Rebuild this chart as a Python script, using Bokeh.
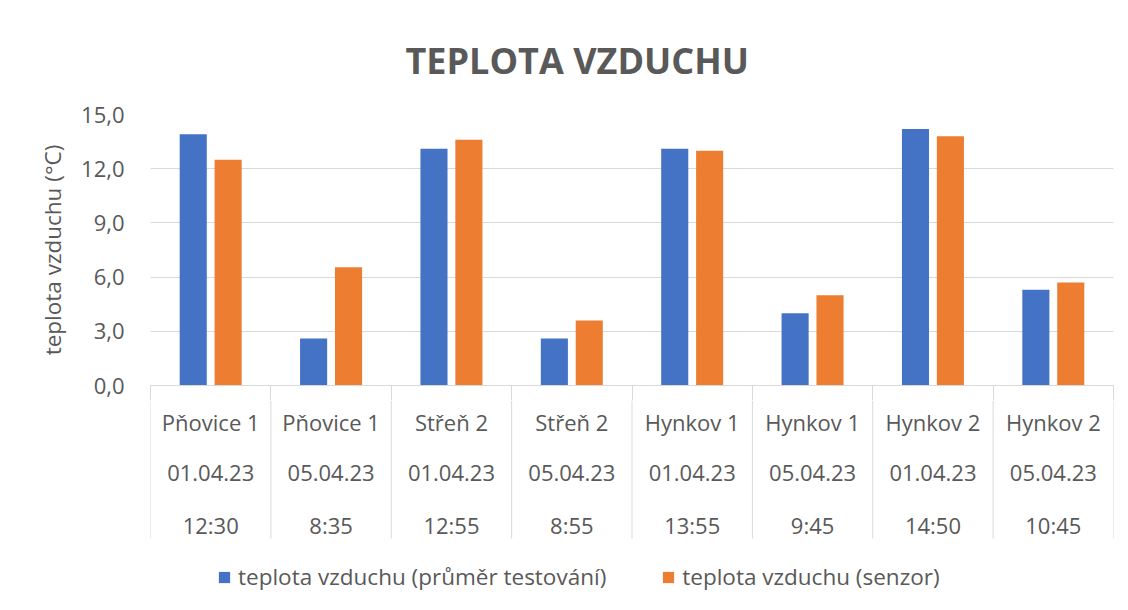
from bokeh.plotting import figure
from bokeh.layouts import column
from bokeh.models import (ColumnDataSource, FixedTicker, Range1d, Legend, LegendItem)
from bokeh.core.properties import value
from bokeh.embed import file_html
from bokeh.resources import INLINE

# ---- data ----
locations = ["Pňovice 1", "Pňovice 1", "Střeň 2", "Střeň 2", "Hynkov 1", "Hynkov 1", "Hynkov 2", "Hynkov 2"]
dates = ["01.04.23", "05.04.23", "01.04.23", "05.04.23", "01.04.23", "05.04.23", "01.04.23", "05.04.23"]
times = ["12:30", "8:35", "12:55", "8:55", "13:55", "9:45", "14:50", "10:45"]
temp_test = [13.9, 2.6, 13.1, 2.6, 13.1, 4.0, 14.2, 5.3]
temp_sensor = [12.5, 6.55, 13.6, 3.6, 13.0, 5.0, 13.8, 5.7]
series_names = ["teplota vzduchu (průměr testování)", "teplota vzduchu (senzor)"]
y_ticks = [0, 3, 6, 9, 12, 15]
y_tick_labels = ["0,0", "3,0", "6,0", "9,0", "12,0", "15,0"]

BLUE = "#4472C4"
ORANGE = "#ED7D31"
TXT = "#595959"
GRID = "#D9D9D9"
FONT = "Open Sans"

n = len(locations)
offset = 0.145
bw = 0.225
centers = [i + 0.5 for i in range(n)]
bounds = list(range(n + 1))
x_range = Range1d(0, n)

src = ColumnDataSource(dict(
    xa=[c - offset for c in centers],
    xb=[c + offset for c in centers],
    a=temp_test,
    b=temp_sensor,
))

# ---------- main plot: title, bars, value axis ----------
p = figure(width=1128, height=400, output_backend="svg", toolbar_location=None,
           x_range=x_range, y_range=Range1d(0, 15),
           min_border_left=150, min_border_right=15, min_border_top=114, min_border_bottom=15)
p.outline_line_color = None
p.background_fill_color = "white"
p.border_fill_color = "white"

p.vbar(x="xa", top="a", width=bw, source=src, fill_color=BLUE, line_color=None)
p.vbar(x="xb", top="b", width=bw, source=src, fill_color=ORANGE, line_color=None)

p.title.text = "TEPLOTA VZDUCHU"
p.title.text_font = FONT
p.title.text_font_size = "36px"
p.title.text_font_style = "bold"
p.title.text_color = TXT
p.title.align = "left"
p.title.offset = 255
p.title.standoff = 59

# category axis line with the top part of the separators
xa = p.xaxis[0]
xa.ticker = FixedTicker(ticks=[], minor_ticks=bounds)
xa.axis_line_color = GRID
xa.major_tick_line_color = None
xa.major_tick_out = 0
xa.major_tick_in = 0
xa.minor_tick_line_color = GRID
xa.minor_tick_out = 15
xa.minor_tick_in = 0
xa.major_label_standoff = 0
xa.major_label_text_font_size = "0px"

ya = p.yaxis[0]
ya.ticker = FixedTicker(ticks=y_ticks)
ya.major_label_overrides = {t: l for t, l in zip(y_ticks, y_tick_labels)}
ya.axis_line_color = None
ya.major_tick_line_color = None
ya.minor_tick_line_color = None
ya.major_label_standoff = 20
ya.major_label_text_font = FONT
ya.major_label_text_font_size = "22px"
ya.major_label_text_color = TXT
ya.axis_label = "teplota vzduchu (°C)"
ya.axis_label_text_font = FONT
ya.axis_label_text_font_size = "22.5px"
ya.axis_label_text_font_style = "normal"
ya.axis_label_text_color = TXT
ya.axis_label_standoff = 10

p.ygrid.ticker = FixedTicker(ticks=y_ticks)
p.ygrid.grid_line_color = GRID
p.xgrid.grid_line_color = None

# ---------- category labels + legend (y measured downward in px) ----------
q = figure(width=1128, height=210, output_backend="svg", toolbar_location=None,
           x_range=x_range, y_range=Range1d(210, 0),
           min_border_left=150, min_border_right=15, min_border_top=0, min_border_bottom=0)
q.outline_line_color = None
q.background_fill_color = "white"
q.border_fill_color = "white"
q.xaxis.visible = False
q.yaxis.visible = False
q.xgrid.grid_line_color = None
q.ygrid.grid_line_color = None

# separators between categories
q.segment(x0=bounds, x1=bounds, y0=[0] * len(bounds), y1=[138] * len(bounds),
          line_color=GRID, line_width=1)

row_y = [21, 72.5, 124]
for rows, yy in zip([locations, dates, times], row_y):
    q.text(x=centers, y=[yy] * n, text=rows, text_align="center", text_baseline="middle",
           text_font=value(FONT), text_font_size=value("22px"), text_color=TXT)

# legend: hidden renderers carrying the series colours
l1 = q.vbar(x="xa", top="a", width=bw, source=src, fill_color=BLUE, line_color=None, visible=False)
l2 = q.vbar(x="xb", top="b", width=bw, source=src, fill_color=ORANGE, line_color=None, visible=False)
legend = Legend(items=[LegendItem(label=series_names[0], renderers=[l1]),
                       LegendItem(label=series_names[1], renderers=[l2])],
                orientation="horizontal", location=(67, 18),
                glyph_width=14, glyph_height=14, label_standoff=7, spacing=55,
                label_text_font=FONT, label_text_font_size="22.5px", label_text_color=TXT,
                border_line_color=None, background_fill_alpha=0, padding=6, margin=0)
q.add_layout(legend, "center")

layout = column(p, q, spacing=0)
open("out.html", "w").write(file_html(layout, INLINE))
